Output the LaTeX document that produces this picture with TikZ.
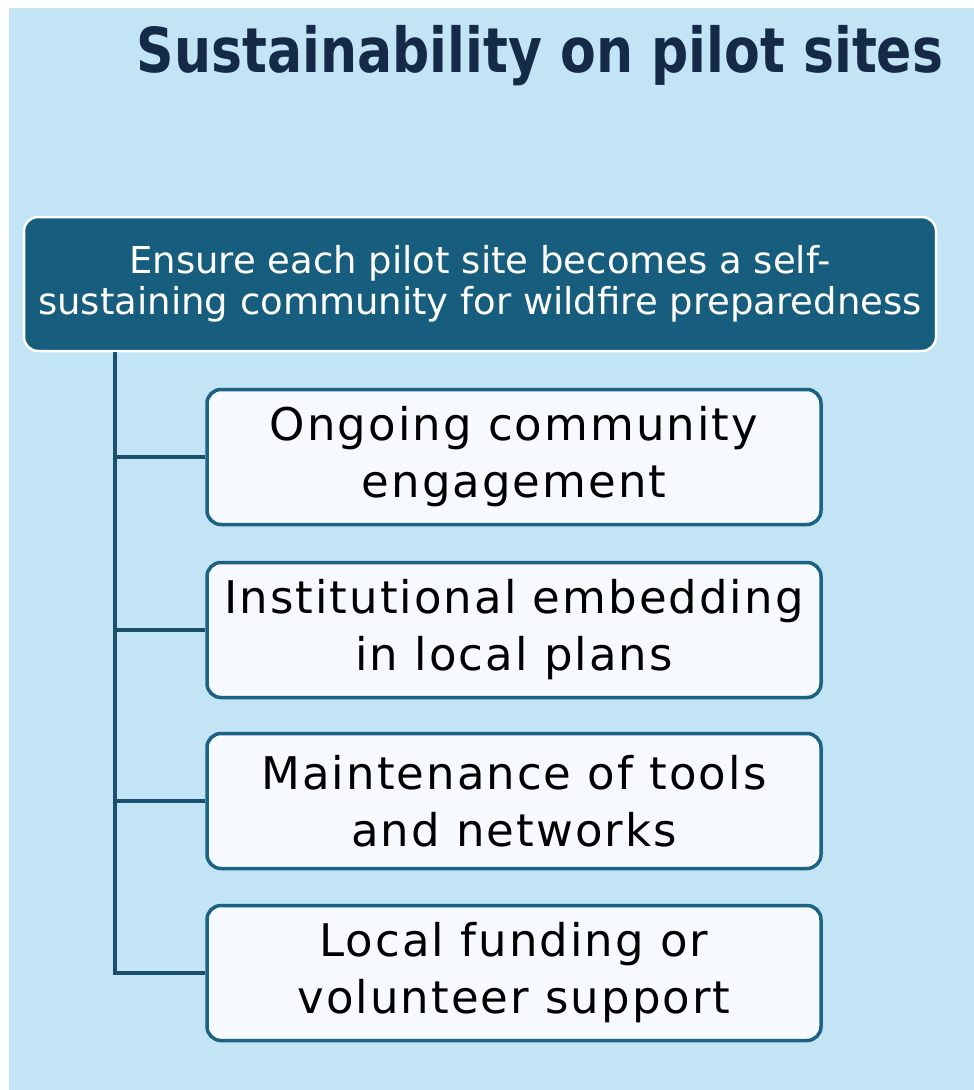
\documentclass[tikz,border=0pt]{standalone}
\usepackage{fontspec}
\setmainfont{DejaVu Sans}
\newfontfamily\itemfont[LetterSpace=4.5]{DejaVu Sans}
\definecolor{BGcolor}{HTML}{c2e4f4}
\definecolor{TITLEcolor}{HTML}{142a46}
\definecolor{GOALcolor}{HTML}{175d7d}
\definecolor{EDGEcolor}{HTML}{1b6283}
\definecolor{LINKcolor}{HTML}{1a4f6e}
\definecolor{BOXcolor}{HTML}{f6fafe}
\usetikzlibrary{%
    calc,
    positioning
}

\begin{document}
\begin{tikzpicture}[x=1pt, y=-1pt,
    goal/.style={draw=white, line width=2.5pt, fill=GOALcolor, rounded corners=14pt,
        minimum width=912pt, minimum height=134pt, align=center, text=white,
        font=\fontsize{37}{41}\selectfont},
    item/.style={draw=EDGEcolor, line width=3.5pt, fill=BOXcolor, rounded corners=14pt,
        minimum width=614pt, minimum height=135pt, align=center, text=black,
        font=\itemfont\fontsize{45}{57}\selectfont},
    link/.style={draw=LINKcolor, line width=3.5pt}
    ]
    % 背景
    \useasboundingbox (0, 0) rectangle (974, 1090);
    \fill [BGcolor] (9, 8) rectangle (974, 1090);

    % 标题
    \node (title) [anchor=base, text=TITLEcolor, font=\fontsize{62}{70}\selectfont\bfseries]
        at (540, 72) {\scalebox{0.84}[1]{Sustainability on pilot sites}};

    % 顶部目标
    \node (goal) [goal] at (480, 284)
        {Ensure each pilot site becomes a self-\\sustaining community for wildfire preparedness};

    % 四个子项
    \node (engage) [item] at (514, 457) {Ongoing community\\engagement};
    \node (embed) [item] at (514, 630) {Institutional embedding\\in local plans};
    \node (tools) [item] at (514, 801) {Maintenance of tools\\and networks};
    \node (fund) [item] at (514, 973) {Local funding or\\volunteer support};

    % 连线
    \coordinate (spine) at ($ (goal.south west) + (92, 0) $);
    \foreach \child in {engage, embed, tools, fund} {%
            \draw [link] (spine) |- (\child.west);
        }
\end{tikzpicture}
\end{document}
